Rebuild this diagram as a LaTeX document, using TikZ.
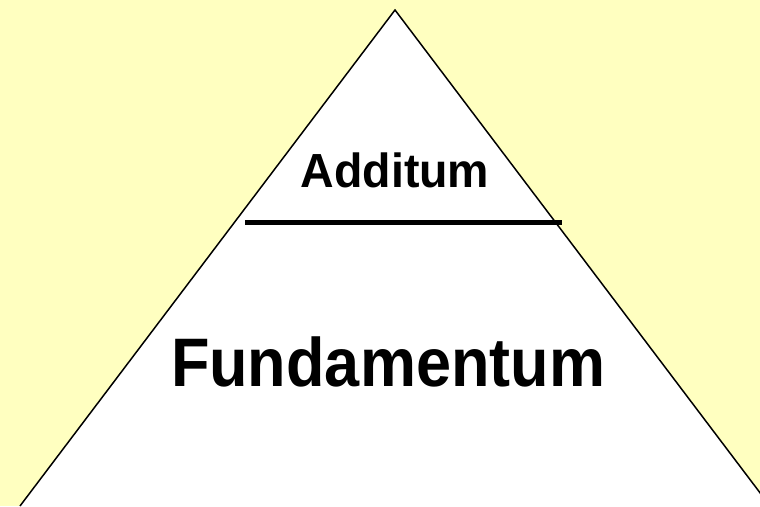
\documentclass[tikz,border=0pt]{standalone}
\usepackage{fontspec}
\usepackage{graphicx}
\setmainfont{Liberation Sans}
\definecolor{bgyellow}{RGB}{255,255,192}
\begin{document}
\begin{tikzpicture}[x=1pt,y=-1pt,
  lbl/.style={font=\bfseries, inner sep=0pt, anchor=base}]
\useasboundingbox (0,0) rectangle (760,506);
\fill[bgyellow] (0,0) rectangle (760,506);
\begin{scope}
\clip (0,0) rectangle (760,506);
\coordinate (apex) at (395,10);
\coordinate (bl) at (20,506);
\coordinate (br) at (770,506);
\filldraw[fill=white, draw=black, line width=1.5pt, line join=miter] (bl) -- (apex) -- (br);
\end{scope}
\coordinate (sl) at (245,222);
\coordinate (sr) at (562,222);
\draw[line width=5pt] (sl) -- (sr);
\node[lbl, font=\fontsize{46.5}{50}\selectfont\bfseries] (add) at (395,187) {\scalebox{1}[1.03]{Additum}};
\node[lbl, font=\fontsize{63}{66}\selectfont\bfseries] (fund) at (388,386) {\scalebox{1}[1.09]{Fundamentum}};
\end{tikzpicture}
\end{document}
